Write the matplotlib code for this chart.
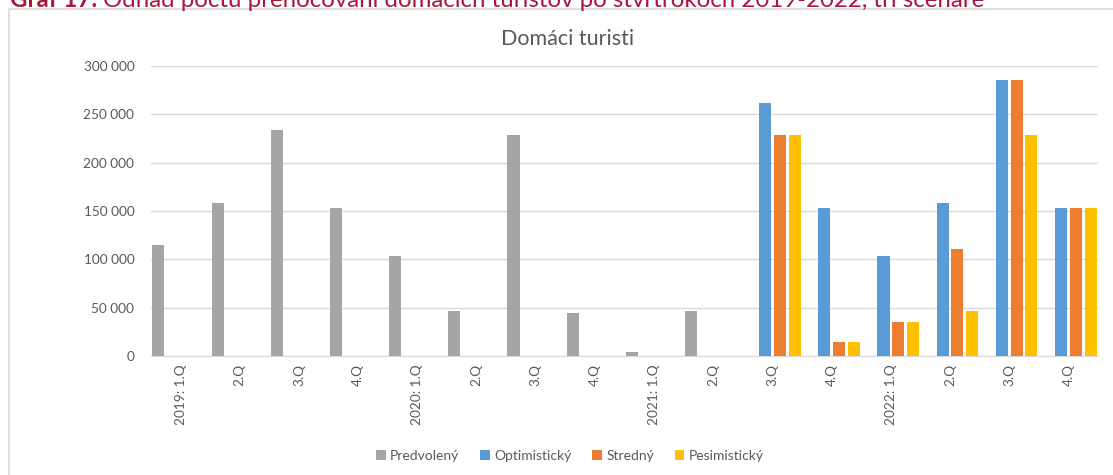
import matplotlib
matplotlib.use("Agg")
import matplotlib.pyplot as plt
import numpy as np
from matplotlib.patches import Rectangle

plt.rcParams['font.family'] = ['Lato', 'DejaVu Sans']

categories = ["2019: 1.Q", "2.Q", "3.Q", "4.Q",
              "2020: 1.Q", "2.Q", "3.Q", "4.Q",
              "2021: 1.Q", "2.Q", "3.Q", "4.Q",
              "2022: 1.Q", "2.Q", "3.Q", "4.Q"]
nan = np.nan
predvoleny = [115000, 158000, 234000, 153000, 103000, 47000, 229000, 44000,
              4000, 47000, nan, nan, nan, nan, nan, nan]
optimisticky = [nan] * 10 + [262000, 153000, 103000, 158000, 286000, 153000]
stredny = [nan] * 10 + [229000, 15000, 35000, 111000, 286000, 153000]
pesimisticky = [nan] * 10 + [229000, 15000, 35000, 47000, 229000, 153000]

series = [("Predvolený", predvoleny, "#A5A5A5"),
          ("Optimistický", optimisticky, "#5B9BD5"),
          ("Stredný", stredny, "#ED7D31"),
          ("Pesimistický", pesimisticky, "#FFC000")]

W, H = 1113, 475
fig = plt.figure(figsize=(W / 100, H / 100), dpi=100)

# chart border
fig.patches.append(Rectangle((9 / W, -0.01), 1.2, (H - 9) / H + 0.01,
                             transform=fig.transFigure, fill=False,
                             edgecolor="#D9D9D9", linewidth=1.2))

# caption (cut at top, as in the source)
cap_col = "#A6193C"
t1 = fig.text(10 / W, 1 - 7 / H, "Graf 17:", color=cap_col, fontsize=17.3,
              fontweight="bold", va="baseline", ha="left")
r = fig.canvas.get_renderer()
bb = t1.get_window_extent(renderer=r)
fig.text((bb.x1 + 6) / W, 1 - 7 / H,
         "Odhad počtu prenocovaní domácich turistov po štvrťrokoch 2019-2022, tri scenáre",
         color=cap_col, fontsize=17.3, va="baseline", ha="left")

ax = fig.add_axes([151 / W, 1 - 356 / H, (1098 - 151) / W, (356 - 66) / H])
x = np.arange(len(categories))
slot = 0.25
bw = 0.205
for i, (name, vals, col) in enumerate(series):
    ax.bar(x - 0.375 + i * slot, vals, width=bw, color=col, label=name,
           zorder=3)

ax.set_xlim(-0.5, len(categories) - 0.5)
ax.set_ylim(0, 300000)
yt = np.arange(0, 300001, 50000)
ax.set_yticks(yt)
ax.set_yticklabels(["0" if v == 0 else f"{v // 1000} 000" for v in yt])
ax.grid(axis="y", color="#D9D9D9", linewidth=1, zorder=0)
ax.set_xticks(x)
ax.set_xticklabels(categories, rotation=90, va="top", ha="center")
for s in ["top", "right", "left"]:
    ax.spines[s].set_visible(False)
ax.spines["bottom"].set_color("#D9D9D9")
ax.tick_params(axis="both", length=0, labelsize=9.8, colors="#595959")
ax.tick_params(axis="y", pad=12)
ax.tick_params(axis="x", pad=6)

fig.text(568 / W, 1 - 39 / H, "Domáci turisti", ha="center", va="center",
         fontsize=15.5, color="#595959")

fig.legend(loc="center", bbox_to_anchor=(570 / W, 1 - 456 / H), ncol=4,
           frameon=False, fontsize=10, handlelength=0.7, handleheight=0.7,
           handletextpad=0.3, columnspacing=1.5, labelcolor="#595959")

fig.savefig("out.png", dpi=100)
